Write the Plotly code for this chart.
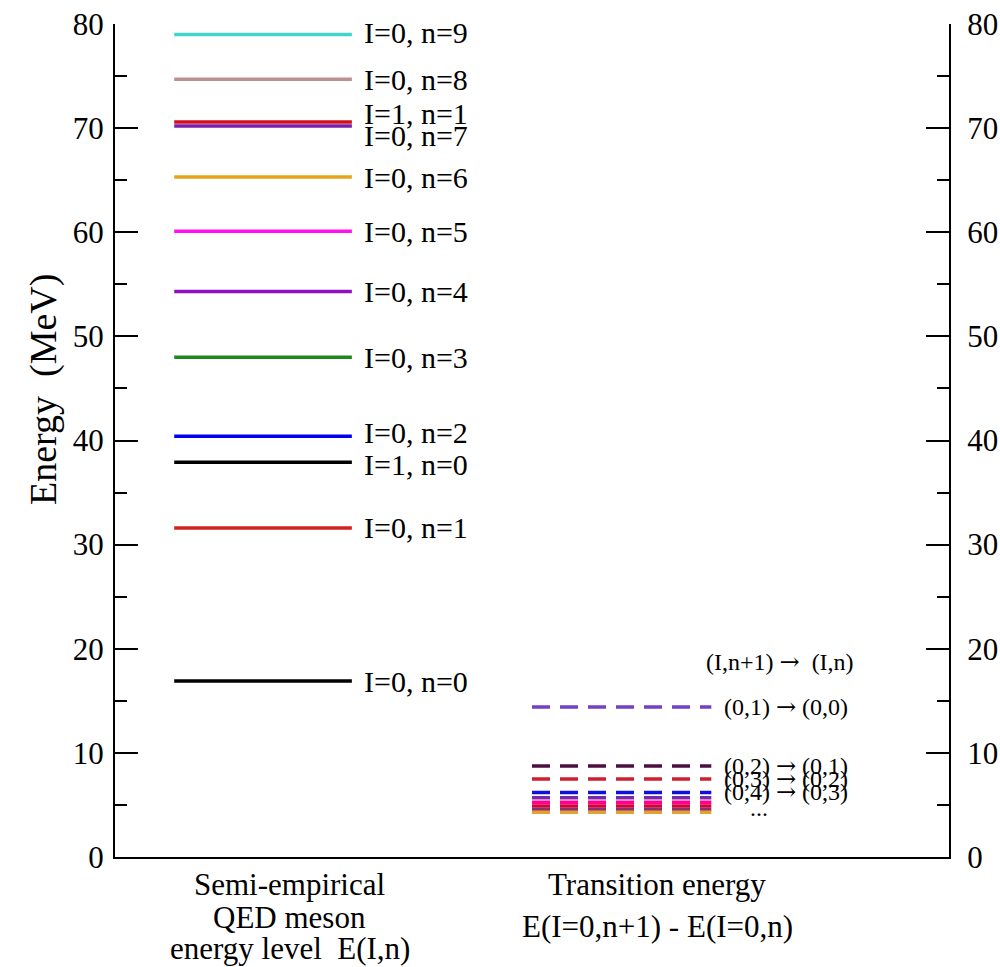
import plotly.graph_objects as go

# ---------------- data ----------------
level_labels = ["I=0, n=0", "I=0, n=1", "I=1, n=0", "I=0, n=2", "I=0, n=3",
                "I=0, n=4", "I=0, n=5", "I=0, n=6", "I=0, n=7", "I=1, n=1",
                "I=0, n=8", "I=0, n=9"]
level_energy = [16.9, 31.6, 37.9, 40.4, 48.0, 54.3, 60.1, 65.3, 70.2, 70.6, 74.7, 79.0]
level_colors = ["#000000", "#d42020", "#000000", "#0000ee", "#1a881a", "#8e10c0",
                "#ff10f0", "#e8a418", "#7a20a8", "#d01020", "#bc9090", "#40d4cc"]
level_label_shift = [0, 0, -2, 4, 0, 0, 0, 0, -9, 8, 0, 2]

ARROW = '<span style="font-family:DejaVu Serif">\u2192</span>'
transition_labels = ["(0,1) " + ARROW + " (0,0)", "(0,2) " + ARROW + " (0,1)",
                     "(0,3) " + ARROW + " (0,2)", "(0,4) " + ARROW + " (0,3)",
                     "", "", "", "", ""]
transition_energy = [14.4, 8.75, 7.5, 6.2, 5.7, 5.25, 4.9, 4.55, 4.3]
transition_colors = ["#7440c4", "#4c1040", "#cc2030", "#1010e0", "#7a2aa8",
                     "#ff0090", "#d8003a", "#8a3070", "#e4a030"]

y_ticks = [0, 10, 20, 30, 40, 50, 60, 70, 80]

# ---------------- layout constants ----------------
LEVEL_X = [0.71, 2.84]
TRANS_X = [5.0, 7.15]
FONT = "Liberation Serif"

fig = go.Figure()

for e, c in zip(level_energy, level_colors):
    fig.add_trace(go.Scatter(x=LEVEL_X, y=[e, e], mode="lines",
                             line=dict(color=c, width=3.5),
                             showlegend=False, hoverinfo="skip"))

for e, c in zip(transition_energy, transition_colors):
    fig.add_trace(go.Scatter(x=TRANS_X, y=[e, e], mode="lines",
                             line=dict(color=c, width=3.5, dash="18px,10px"),
                             showlegend=False, hoverinfo="skip"))

# dummy trace for right axis
fig.add_trace(go.Scatter(x=[None], y=[None], yaxis="y2", showlegend=False,
                         hoverinfo="skip"))

annotations = []
for lab, e, s in zip(level_labels, level_energy, level_label_shift):
    annotations.append(dict(x=2.96, y=e, text=lab, xref="x", yref="y",
                            xanchor="left", yanchor="middle", showarrow=False,
                            yshift=s, font=dict(family=FONT, size=30, color="black")))

for lab, e in zip(transition_labels, transition_energy):
    if lab:
        annotations.append(dict(x=7.28, y=e, text=lab, xref="x", yref="y",
                                xanchor="left", yanchor="middle", showarrow=False,
                                font=dict(family=FONT, size=24, color="black")))

annotations.append(dict(x=7.06, y=18.75, text="(I,n+1) " + ARROW + "  (I,n)", xref="x", yref="y",
                        xanchor="left", yanchor="middle", showarrow=False,
                        font=dict(family=FONT, size=24, color="black")))
annotations.append(dict(x=7.72, y=4.7, text="...", xref="x", yref="y",
                        xanchor="center", yanchor="middle", showarrow=False,
                        font=dict(family=FONT, size=24, color="black")))

# axis title
annotations.append(dict(x=-0.0863, y=0.5606, text="Energy  (MeV)", xref="paper", yref="paper",
                        textangle=-90, xanchor="center", yanchor="middle", showarrow=False,
                        font=dict(family=FONT, size=38, color="black")))

# bottom category labels
bottom = [(0.2098, -0.0336, "Semi-empirical"),
          (0.2098, -0.0725, "QED meson"),
          (0.2098, -0.1095, "energy level  E(I,n)"),
          (0.6499, -0.0336, "Transition energy"),
          (0.6499, -0.0830, "E(I=0,n+1) - E(I=0,n)")]
for x, y, t in bottom:
    annotations.append(dict(x=x, y=y, text=t, xref="paper", yref="paper",
                            xanchor="center", yanchor="middle", showarrow=False,
                            font=dict(family=FONT, size=31, color="black")))

axis_common = dict(range=[0, 80], tickvals=y_ticks, ticks="inside", ticklen=23,
                   tickwidth=2, tickcolor="black", showline=True, linewidth=2,
                   linecolor="black", showgrid=False, zeroline=False,
                   automargin=False,
                   tickfont=dict(family=FONT, size=31, color="black"),
                   minor=dict(dtick=5, tick0=0, ticks="inside", ticklen=12,
                              tickwidth=2, tickcolor="black"))

fig.update_layout(
    width=1000, height=967,
    margin=dict(l=115, r=51, t=24, b=110),
    paper_bgcolor="white", plot_bgcolor="white",
    xaxis=dict(range=[0, 10], showline=True, linewidth=2, linecolor="black",
               showgrid=False, zeroline=False, showticklabels=False, ticks="",
               automargin=False),
    yaxis=dict(side="left", ticklabelstandoff=3, **axis_common),
    yaxis2=dict(side="right", overlaying="y", ticklabelstandoff=10, **axis_common),
    annotations=annotations,
    showlegend=False,
)

fig.write_html("out.html")
